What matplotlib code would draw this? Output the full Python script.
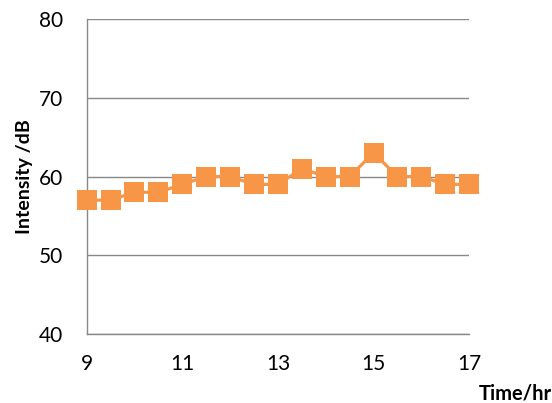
import matplotlib
matplotlib.use('Agg')
import matplotlib.pyplot as plt

# Daten
hours = [9, 9.5, 10, 10.5, 11, 11.5, 12, 12.5, 13, 13.5, 14, 14.5, 15, 15.5, 16, 16.5, 17]
intensity = [57, 57, 58, 58, 59, 60, 60, 59, 59, 61, 60, 60, 63, 60, 60, 59, 59]
x_ticks = [9, 11, 13, 15, 17]
y_ticks = [40, 50, 60, 70, 80]

plt.rcParams['font.family'] = ['Lato', 'DejaVu Sans']

fig = plt.figure(figsize=(5.52, 4.03), dpi=100)
ax = fig.add_axes([0.157, 0.171, 0.693, 0.782])

ax.plot(hours, intensity, color='#F79646', linewidth=2.3, marker='s',
        markersize=14, markeredgewidth=0, zorder=3, clip_on=False)

ax.set_xlim(9, 17)
ax.set_ylim(40, 80)
ax.set_xticks(x_ticks)
ax.set_yticks(y_ticks)
ax.tick_params(axis='both', length=0, labelsize=15, colors='black')
ax.tick_params(axis='y', pad=17)
ax.tick_params(axis='x', pad=14)

ax.grid(True, axis='y', color='#888888', linewidth=1)
ax.set_axisbelow(True)
for side in ['top', 'right']:
    ax.spines[side].set_visible(False)
ax.spines['left'].set_color('#888888')
ax.spines['bottom'].set_color('#888888')
ax.spines['left'].set_linewidth(1)
ax.spines['bottom'].set_linewidth(1)

ax.set_ylabel('Intensity /dB', fontsize=14, fontweight='bold', labelpad=4)
fig.text(0.999, 0.0, 'Time/hr', fontsize=14.5, fontweight='bold', ha='right', va='bottom')

plt.savefig('out.png', dpi=100)
